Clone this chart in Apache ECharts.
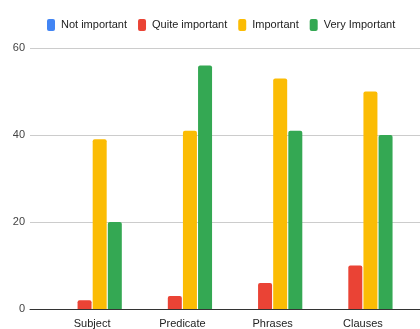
<!DOCTYPE html>
<html>
<head>
<meta charset="utf-8">
<script src="https://cdn.jsdelivr.net/npm/echarts@6/dist/echarts.min.js"></script>
<style>
  html, body { margin: 0; padding: 0; background: #fff; }
  #chart { width: 420px; height: 329px; }
</style>
</head>
<body>
<div id="chart"></div>
<script>
const categories = ['Subject', 'Predicate', 'Phrases', 'Clauses']
const notImportant = [0, 0, 0, 0]
const quiteImportant = [2, 3, 6, 10]
const important = [39, 41, 53, 50]
const veryImportant = [20, 56, 41, 40]
const yTicks = [0, 20, 40, 60]

const colors = ['#4285F4', '#EA4335', '#FBBC04', '#34A853']
const names = ['Not important', 'Quite important', 'Important', 'Very Important']
const values = [notImportant, quiteImportant, important, veryImportant]

const font = '"Liberation Sans", Arial, sans-serif'

const chart = echarts.init(document.getElementById('chart'))

const series = values.map((data, i) => ({
  name: names[i],
  type: 'bar',
  xAxisIndex: 1,
  yAxisIndex: 1,
  data: data,
  barWidth: 14,
  barGap: '8%',
  itemStyle: {
    color: colors[i],
    borderRadius: [2, 2, 0, 0]
  }
}))

chart.setOption({
  animation: false,
  textStyle: { fontFamily: font },
  legend: {
    top: 14,
    left: 42,
    itemWidth: 8,
    itemHeight: 12,
    itemGap: 11,
    icon: 'roundRect',
    textStyle: { fontFamily: font, fontSize: 11, color: '#222', padding: [0, 0, 0, 1] },
    data: names
  },
  // grid 0: gridlines and axis line, grid 1: bars
  grid: [
    { left: 30, right: 0, top: 48, bottom: 20 },
    { left: 47, right: 12, top: 48, bottom: 20 }
  ],
  xAxis: [
    {
      type: 'category',
      gridIndex: 0,
      data: [''],
      axisTick: { show: false },
      axisLabel: { show: false },
      axisLine: { lineStyle: { color: '#333', width: 1 } }
    },
    {
      type: 'category',
      gridIndex: 1,
      data: categories,
      axisTick: { show: false },
      axisLine: { show: false },
      axisLabel: { fontFamily: font, fontSize: 11, color: '#222', margin: 9 }
    }
  ],
  yAxis: [
    {
      type: 'value',
      gridIndex: 0,
      min: yTicks[0],
      max: yTicks[yTicks.length - 1],
      interval: 20,
      axisLabel: { fontFamily: font, fontSize: 11, color: '#444', margin: 5 },
      splitLine: { lineStyle: { color: '#ccc' } },
      axisLine: { show: false },
      axisTick: { show: false }
    },
    {
      type: 'value',
      gridIndex: 1,
      min: yTicks[0],
      max: yTicks[yTicks.length - 1],
      interval: 20,
      show: false
    }
  ],
  series: series
})
</script>
</body>
</html>
